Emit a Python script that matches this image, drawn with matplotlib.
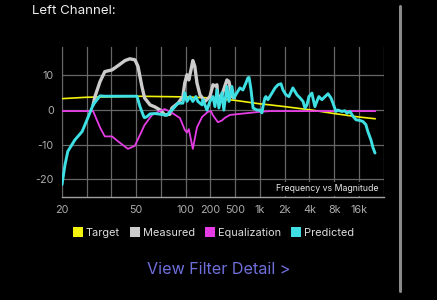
import numpy as np
import matplotlib
matplotlib.use('agg')
import matplotlib.pyplot as plt
from matplotlib.lines import Line2D

plt.rcParams['font.family'] = ['Inter', 'DejaVu Sans']

# grid of the frequency axis (equally spaced on screen)
grid_freqs = [20, 30, 40, 50, 70, 100, 200, 500, 1000, 2000, 4000, 8000, 16000, 32000]
tick_labels = ['20', '', '', '50', '', '100', '200', '500', '1k', '2k', '4k', '8k', '16k', '']

target_f = [20, 30, 50, 100, 200, 500, 1000, 1320, 2000, 4000, 8000, 16000, 25100]
target_v = [3.3, 3.7, 4.0, 3.8, 3.5, 2.8, 1.8, 1.5, 1.0, 0.1, -1.0, -2.0, -2.5]

measured_f = [32.3, 33, 35, 37, 40.2, 42.4, 45.2, 47.2, 49.4, 51.2, 54, 56, 60.3, 64.5,
              69.3, 74, 79.6, 82, 89.5, 96, 98.6, 103.5, 109, 115.8, 122, 129, 137, 149,
              172, 197, 219, 236, 254, 263, 306, 368, 397, 442, 477]
measured_v = [1.5, 3.9, 8.2, 11.1, 11.6, 12.8, 14.3, 14.8, 14.5, 12.6, 6.8, 3.5, 1.5, 0.9,
              0.0, -1.4, -1.2, 0.6, 2.0, 3.9, 7.8, 10.2, 8.7, 11.6, 14.3, 12.6, 7.8, 4.4,
              2.5, 3.9, 7.3, 7.0, 7.3, 3.5, 4.4, 8.7, 8.2, 3.9, 3.5]

eq_f = [20, 32.3, 35, 37, 40.2, 42.4, 46.4, 49.4, 56, 62, 69.3, 74, 82, 92, 98.6, 103.5,
        109, 122, 137, 158, 186, 204, 219, 263, 306, 343, 412, 570, 1000, 1320, 25100]
eq_v = [-0.3, -0.3, -5.0, -7.6, -7.6, -9.0, -11.2, -10.3, -4.3, -1.4, -0.2, 0.3, -0.8, -2.3,
        -5.7, -6.5, -5.5, -11.2, -5.0, -2.0, -0.5, -0.3, -1.5, -3.5, -3.0, -2.2, -1.4, -1.1,
        -0.5, -0.3, -0.3]

pred_f = [20, 21, 22, 24.7, 27.8, 30.4, 32.3, 33.8, 35, 37, 50.5, 52.6, 55.5, 56, 57.8,
          60.3, 64.5, 69.3, 76, 82, 89.5, 96, 98.6, 103.5, 112.6, 122, 133, 140.5, 158, 162,
          181, 197, 219, 236, 254, 273, 306, 328, 368, 397, 442, 477, 525, 570, 620, 674,
          714, 737, 779, 824, 920, 1000, 1057, 1088, 1149, 1181, 1248, 1400, 1526, 1659,
          1802, 1905, 2070, 2250, 2515, 2820, 3074, 3340, 3530, 3730, 3945, 4287, 4407,
          4660, 4925, 5206, 5675, 6190, 6730, 7310, 7730, 8400, 8880, 9930, 10780, 11430,
          12460, 13550, 14730, 16450, 17880, 19430, 20540, 22390, 23750, 25100]
pred_v = [-21.5, -15.8, -11.9, -8.6, -6.2, -2.2, 1.5, 3.0, 4.1, 4.0, 4.0, 1.0, -2.0, -2.2, -1.9,
          -1.1, -1.0, -1.2, -1.5, 0.0, 2.0, 2.0, 5.0, 2.5, 3.9, 2.5, 3.9, 2.5, 1.5, 3.0,
          0.0, 2.5, 3.9, 1.0, 5.8, 0.6, 5.0, 0.0, 6.8, 2.5, 6.8, 3.5, 5.0, 6.4, 5.8, 7.8,
          9.3, 9.4, 5.8, 0.6, 0.0, 0.0, -0.8, 1.0, 3.5, 3.9, 3.0, 4.9, 6.4, 7.3,
          7.6, 5.8, 4.4, 3.9, 6.4, 4.4, 3.5, 2.5, 0.6, 1.5, 3.9, 4.9, 3.5,
          1.0, 2.5, 3.9, 3.0, 3.9, 4.7, 3.5, 2.0, -0.4, 0.0, -0.4, -0.2, -0.9,
          -0.4, -1.8, -2.8, -3.0, -3.3, -4.2, -6.2, -8.6, -10.9, -12.4]

log_grid = np.log10(grid_freqs)
idx = np.arange(len(grid_freqs))


def fwd(f):
    f = np.clip(np.asarray(f, dtype=float), 1e-3, None)
    return np.interp(np.log10(f), log_grid, idx)


def inv(p):
    return 10 ** np.interp(p, idx, log_grid)


fig = plt.figure(figsize=(4.37, 3.0), dpi=100, facecolor='black')
ax = fig.add_axes([0.1419, 0.3443, 0.878 - 0.1419, 0.8433 - 0.3443])
ax.set_facecolor('black')
ax.set_xscale('function', functions=(fwd, inv))

grid_col = '#676767'
ax.set_xticks(grid_freqs)
ax.set_xticklabels(tick_labels)
ax.set_yticks([-20, -10, 0, 10])
ax.set_yticklabels(['-20', '-10', '0', '10'])
ax.minorticks_off()
ax.set_xlim(20, 32000)
ax.set_ylim(-25, 18.2)
ax.grid(True, color=grid_col, linewidth=0.9)
ax.tick_params(length=0, colors='#acacac', labelsize=7.8, pad=6)
for s in ['top', 'right']:
    ax.spines[s].set_visible(False)
ax.spines['left'].set_color(grid_col)
ax.spines['bottom'].set_color('#a0a0a0')
ax.spines['bottom'].set_linewidth(1.0)

c_target = '#f2f20c'
c_meas = '#cccccc'
c_eq = '#e63ce6'
c_pred = '#3ee0e4'

ax.plot(target_f, target_v, color=c_target, lw=1.2, zorder=3)
ax.plot(measured_f, measured_v, color=c_meas, lw=2.4, zorder=4, solid_capstyle='round')
ax.plot(eq_f, eq_v, color=c_eq, lw=1.3, zorder=5)
ax.plot(pred_f, pred_v, color=c_pred, lw=2.1, zorder=6, solid_capstyle='round')

ax.text(0.985, 0.022, 'Frequency vs Magnitude', transform=ax.transAxes, ha='right',
        va='bottom', color='#e8e8e8', fontsize=6.3,
        bbox=dict(facecolor='black', edgecolor='none', pad=1.5))

fig.text(32 / 437, 1 - 11 / 300, 'Left Channel:', color='#eeeeee', fontsize=9.6, va='center')

handles = [Line2D([], [], marker='s', linestyle='none', markersize=6.8, color=c, markeredgewidth=0)
           for c in [c_target, c_meas, c_eq, c_pred]]
fig.legend(handles, ['Target', 'Measured', 'Equalization', 'Predicted'], ncol=4,
           loc='center', bbox_to_anchor=(0.488, 1 - 233 / 300), frameon=False,
           fontsize=7.9, labelcolor='#dddddd', handletextpad=0.25, columnspacing=0.85,
           handlelength=1.0)

fig.text(219 / 437, 1 - 270 / 300, 'View Filter Detail >', color='#6f6fdc', fontsize=11.6,
         ha='center', va='center')

# scroll indicator
fig.add_artist(Line2D([400 / 437, 400 / 437], [1 - 6 / 300, 1 - 291 / 300], color='#8a8a8a',
                      lw=2.2, solid_capstyle='round'))

fig.savefig('out.png', dpi=100, facecolor='black')
